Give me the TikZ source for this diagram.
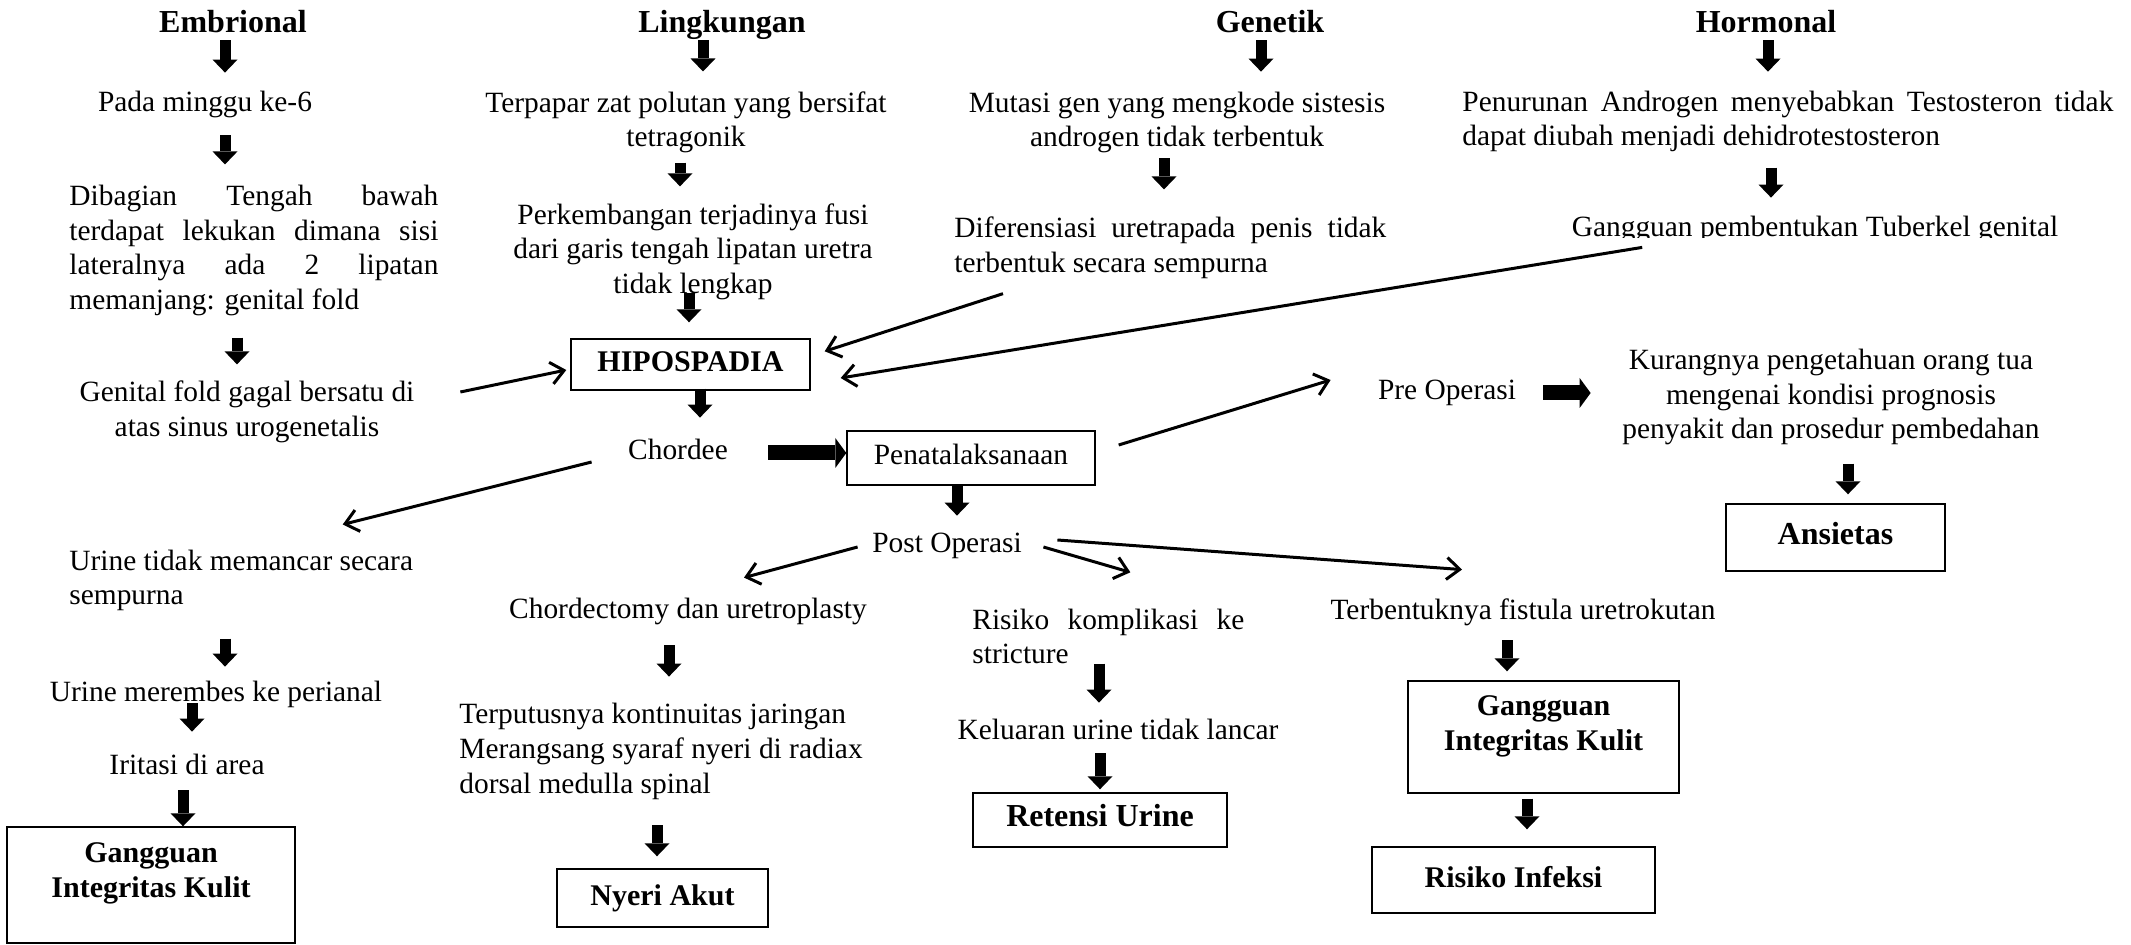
\documentclass[tikz,border=0pt]{standalone}
\usepackage{fontspec}
\setmainfont{Liberation Serif}
\usetikzlibrary{arrows.meta,calc}

\tikzset{
  txt/.style={font=\fontsize{14.7}{17.3}\selectfont, inner sep=0pt},
  one/.style={txt, text height=10pt, text depth=3.2pt},
  hdr/.style={inner sep=0pt, font=\fontsize{16}{18.5}\selectfont\bfseries, text height=10.9pt, text depth=3.5pt},
  dx/.style={draw, line width=0.7pt, inner sep=0pt, font=\fontsize{15}{17.5}\selectfont\bfseries, text height=10.25pt, text depth=3.25pt},
  dxlbl/.style={inner sep=0pt, align=center, font=\fontsize{15}{17.3}\selectfont\bfseries},
  blk/.style={line width=5.5pt, -{Triangle[length=6.5pt,width=12.5pt,line width=0pt]}},
  wide/.style={line width=7.5pt, -{Triangle[length=5.5pt,width=15pt,line width=0pt]}},
  lnk/.style={line width=1.5pt, -{Straight Barb[length=6.5pt,width=11pt]}}
}

\begin{document}
\begin{tikzpicture}[x=0.5pt,y=-0.5pt]

\useasboundingbox (0,0) rectangle (2131,945);

\node[hdr] (emb) at (233,25.6) {Embrional};
\node[hdr] (lin) at (722,25.6) {Lingkungan};
\node[hdr] (gen) at (1270,25.6) {Genetik};
\node[hdr] (hor) at (1766,25.6) {Hormonal};

\node[one] (pada) at (205,105) {Pada minggu ke-6};
\node[txt, align=center] (terpapar) at (686,122.5) {Terpapar zat polutan yang bersifat\\tetragonik};
\node[txt, align=center] (mutasi) at (1177,122.5) {Mutasi gen yang mengkode sistesis\\androgen tidak terbentuk};
\node[txt, align=left, anchor=west] (penurunan) at (1462,121.5) {\makebox[325.5pt][s]{Penurunan Androgen menyebabkan Testosteron tidak}\\dapat diubah menjadi dehidrotestosteron};

\node[txt, align=left, anchor=west] (dibagian) at (69,250.5) {\makebox[184.5pt][s]{Dibagian Tengah bawah}\\\makebox[184.5pt][s]{terdapat lekukan dimana sisi}\\\makebox[184.5pt][s]{lateralnya ada 2 lipatan}\\memanjang: genital fold};
\node[txt, align=center] (perkembangan) at (693,251.5) {Perkembangan terjadinya fusi\\dari garis tengah lipatan uretra\\tidak lengkap};
\node[txt, align=left, anchor=west] (diferensiasi) at (954,248) {\makebox[216pt][s]{Diferensiasi uretrapada penis tidak}\\terbentuk secara sempurna};
\begin{scope}
\clip (1500,200) rectangle (2131,238);
\node[one] (tub) at (1815,230) {Gangguan pembentukan Tuberkel genital};
\end{scope}

\node[txt, align=center] (genfold) at (247,412) {Genital fold gagal bersatu di\\atas sinus urogenetalis};
\node[dx, minimum width=119.5pt, minimum height=25.5pt] (hipo) at (690.5,364.5) {HIPOSPADIA};
\node[one] (chordee) at (678,453) {Chordee};
\node[dx, font=\fontsize{14.7}{17.3}\selectfont, minimum width=124pt, minimum height=27pt] (pena) at (971,458) {Penatalaksanaan};
\node[one] (preop) at (1447,393) {Pre Operasi};
\node[txt, align=center] (kurang) at (1831,397) {Kurangnya pengetahuan orang tua\\mengenai kondisi prognosis\\penyakit dan prosedur pembedahan};
\node[dx, font=\fontsize{16}{18.5}\selectfont\bfseries, minimum width=109.5pt, minimum height=33.5pt] (ansietas) at (1835.5,537.5) {Ansietas};

\node[txt, align=left, anchor=west] (urine) at (69,580.5) {Urine tidak memancar secara\\sempurna};
\node[one] (merembes) at (216,695) {Urine merembes ke perianal};
\node[one] (iritasi) at (187,768) {Iritasi di area};
\node[dx, minimum width=144pt, minimum height=58pt, label={[dxlbl, yshift=5.75pt]center:{Gangguan\\Integritas Kulit}}] (kulita) at (151,885) {};

\node[one] (postop) at (947,546) {Post Operasi};
\node[one] (chordec) at (688,612) {Chordectomy dan uretroplasty};
\node[txt, align=left, anchor=west] (terputus) at (459,751.5) {Terputusnya kontinuitas jaringan\\Merangsang syaraf nyeri di radiax\\dorsal medulla spinal};
\node[dx, minimum width=105.5pt, minimum height=29pt] (nyeri) at (662.5,898) {Nyeri Akut};

\node[txt, align=left, anchor=west] (risiko) at (972,636.25) {\makebox[136pt][s]{Risiko komplikasi ke}\\stricture};
\node[one] (keluaran) at (1118,733) {Keluaran urine tidak lancar};
\node[dx, font=\fontsize{16}{18.5}\selectfont\bfseries, minimum width=127pt, minimum height=27pt] (retensi) at (1100,820) {Retensi Urine};

\node[one] (fistula) at (1523,613) {Terbentuknya fistula uretrokutan};
\node[dx, minimum width=135.5pt, minimum height=56pt, label={[dxlbl, yshift=5.25pt]center:{Gangguan\\Integritas Kulit}}] (kulitb) at (1543.5,737) {};
\node[dx, minimum width=141.5pt, minimum height=33pt] (infeksi) at (1513.5,880) {Risiko Infeksi};

\draw[blk, shorten >=9.4pt] (emb.south -| 225,0) -- (pada.north -| 225,0);
\draw[blk, shorten >=9.9pt] (lin.south -| 703,0) -- (terpapar.north -| 703,0);
\draw[blk, shorten >=9.9pt] (gen.south -| 1261,0) -- (mutasi.north -| 1261,0);
\draw[blk, shorten >=9.4pt] (hor.south -| 1768,0) -- (penurunan.north -| 1768,0);

\draw[blk, shorten <=8.4pt, shorten >=10.2pt] (pada.south -| 225,0) -- (dibagian.north -| 225,0);
\draw[blk, shorten <=4.4pt, shorten >=8.3pt] (terpapar.south -| 680,0) -- (perkembangan.north -| 680,0);
\draw[blk, shorten <=2.4pt, shorten >=13.7pt] (mutasi.south -| 1164,0) -- (diferensiasi.north -| 1164,0);
\draw[blk, shorten <=7.5pt, shorten >=9.4pt] (penurunan.south -| 1771,0) -- (tub.north -| 1771,0);

\draw[blk, shorten <=10.7pt, shorten >=8.2pt] (dibagian.south -| 237,0) -- (genfold.north -| 237,0);
\draw[blk, shorten <=-3.4pt, shorten >=8pt] (perkembangan.south -| 689,0) -- (hipo.north -| 689,0);
\draw[blk, shorten <=-1pt, shorten >=10.9pt] (hipo.south -| 700,0) -- (chordee.north -| 700,0);
\draw[wide, shorten <=20.1pt] (chordee.east) -- (chordee.east -| pena.west);
\draw[blk, shorten >=8.4pt] (pena.south -| 957,0) -- (postop.north -| 957,0);
\draw[wide, shorten <=13.5pt, shorten >=15.7pt] (preop.east) -- (preop.east -| kurang.west);
\draw[blk, shorten <=9.1pt, shorten >=4.5pt] (kurang.south -| 1848,0) -- (ansietas.north -| 1848,0);

\draw[blk, shorten <=13.5pt, shorten >=7.4pt] (urine.south -| 225,0) -- (merembes.north -| 225,0);
\draw[blk, shorten <=-2.6pt, shorten >=11.4pt] (merembes.south -| 192,0) -- (iritasi.north -| 192,0);
\draw[blk, shorten <=4.4pt] (iritasi.south -| 183,0) -- (kulita.north -| 183,0);

\draw[blk, shorten <=9.9pt, shorten >=13.3pt] (chordec.south -| 669,0) -- (terputus.north -| 669,0);
\draw[blk, shorten <=12.8pt, shorten >=6pt] (terputus.south -| 657,0) -- (nyeri.north -| 657,0);
\draw[blk, shorten <=-0.3pt, shorten >=8.4pt] (risiko.south -| 1099,0) -- (keluaran.north -| 1099,0);
\draw[blk, shorten <=3.4pt, shorten >=1.5pt] (keluaran.south -| 1100,0) -- (retensi.north -| 1100,0);
\draw[blk, shorten <=6.9pt, shorten >=4.5pt] (fistula.south -| 1507,0) -- (kulitb.north -| 1507,0);
\draw[blk, shorten <=2.5pt, shorten >=8.5pt] (kulitb.south -| 1527,0) -- (infeksi.north -| 1527,0);

\draw[lnk] ($(genfold.east)+(45.6,-20)$) -- ($(hipo.west)+(-4,5.5)$);
\draw[lnk] ($(diferensiasi.south west)+(49,14.5)$) -- ($(hipo.north east)+(14,13)$);
\draw[lnk] ($(tub.south west)+(70.75,3.8)$) -- ($(hipo.east)+(30,13.5)$);
\draw[lnk] ($(pena.east)+(23,-13)$) -- ($(preop.west)+(-47,-13)$);
\draw[lnk] ($(chordee.west)+(-36.2,9)$) -- ($(urine.north east)+(-70.7,-25)$);
\draw[lnk] ($(postop.west)+(-14.3,1)$) -- ($(chordec.north)+(56,-20.8)$);
\draw[lnk] ($(postop.east)+(21.3,1)$) -- ($(risiko.north)+(22,-35.9)$);
\draw[lnk] ($(postop.east)+(35.3,-6)$) -- ($(fistula.north)+(-61,-29.8)$);

\end{tikzpicture}
\end{document}
